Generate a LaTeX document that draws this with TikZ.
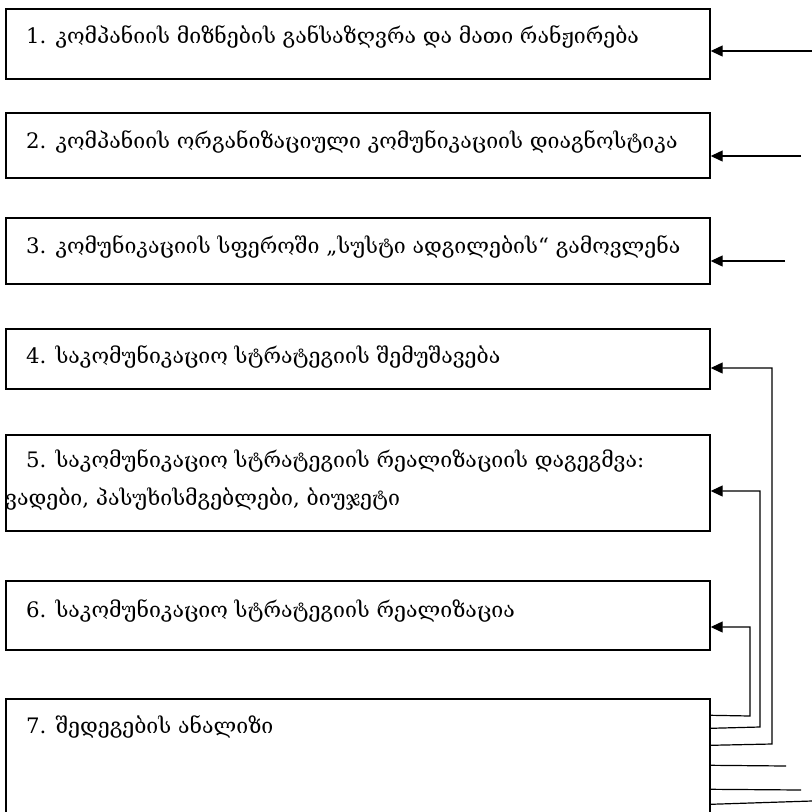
\documentclass[tikz,border=0pt]{standalone}
\usepackage{fontspec}
\setmainfont{DejaVu Serif}
\usetikzlibrary{arrows.meta}

\begin{document}
\begin{tikzpicture}[x=1pt,y=-1pt,
  box/.style={draw,line width=1.4pt,minimum width=704pt,inner sep=0pt},
  arr/.style={line width=1.2pt,-{Triangle[length=12pt,width=11pt]}},
  stub/.style={line width=1.2pt}]
\useasboundingbox (0,0) rectangle (812,812);
\fontsize{21.3}{25}\selectfont

\node (b1) [box,minimum height=70pt] at (358,44) {};
\node (b2) [box,minimum height=65pt] at (358,145.5) {};
\node (b3) [box,minimum height=66pt] at (358,251) {};
\node (b4) [box,minimum height=60pt] at (358,359) {};
\node (b5) [box,minimum height=96pt] at (358,483) {};
\node (b6) [box,minimum height=69pt] at (358,615.5) {};
\node (b7) [box,minimum height=140pt] at (358,769) {};

\node (t1) [anchor=base west,inner sep=0pt] at (26,43) {1. კომპანიის მიზნების განსაზღვრა და მათი რანჟირება};
\node (t2) [anchor=base west,inner sep=0pt] at (26,148) {2. კომპანიის ორგანიზაციული კომუნიკაციის დიაგნოსტიკა};
\node (t3) [anchor=base west,inner sep=0pt] at (26,253) {3. კომუნიკაციის სფეროში „სუსტი ადგილების“ გამოვლენა};
\node (t4) [anchor=base west,inner sep=0pt] at (26,363) {4. საკომუნიკაციო სტრატეგიის შემუშავება};
\node (t5) [anchor=base west,inner sep=0pt] at (26,467) {5. საკომუნიკაციო სტრატეგიის რეალიზაციის დაგეგმვა:};
\node (t5b) [anchor=base west,inner sep=0pt] at (5,505) {ვადები, პასუხისმგებლები, ბიუჯეტი};
\node (t6) [anchor=base west,inner sep=0pt] at (26,617) {6. საკომუნიკაციო სტრატეგიის რეალიზაცია};
\node (t7) [anchor=base west,inner sep=0pt] at (26,733) {7. შედეგების ანალიზი};

% arrows coming in from the right
\coordinate (e1) at (812,51);
\coordinate (e2) at (801,156);
\coordinate (e3) at (785,261);
\draw[arr] (e1) -- (e1 -| b1.east);
\draw[arr] (e2) -- (e2 -| b2.east);
\draw[arr] (e3) -- (e3 -| b3.east);

% feedback from 7
\coordinate (c6) at (750,716);
\coordinate (k6) at (750,627);
\coordinate (c5) at (760,727);
\coordinate (k5) at (760,491);
\coordinate (c4) at (772,744);
\coordinate (k4) at (772,368);
\draw[arr] ([yshift=-17pt]b7.north east) -- (c6) -- (k6) -- (k6 -| b6.east);
\draw[arr] ([yshift=-30pt]b7.north east) -- (c5) -- (k5) -- (k5 -| b5.east);
\draw[arr] ([yshift=-47pt]b7.north east) -- (c4) -- (k4) -- (k4 -| b4.east);

\coordinate (f3) at (786,766);
\coordinate (f2) at (801,790);
\coordinate (f1) at (812,801);
\draw[stub] ([yshift=-67pt]b7.north east) -- (f3);
\draw[stub] ([yshift=-91pt]b7.north east) -- (f2);
\draw[stub] ([yshift=-106pt]b7.north east) -- (f1);
\end{tikzpicture}
\end{document}
